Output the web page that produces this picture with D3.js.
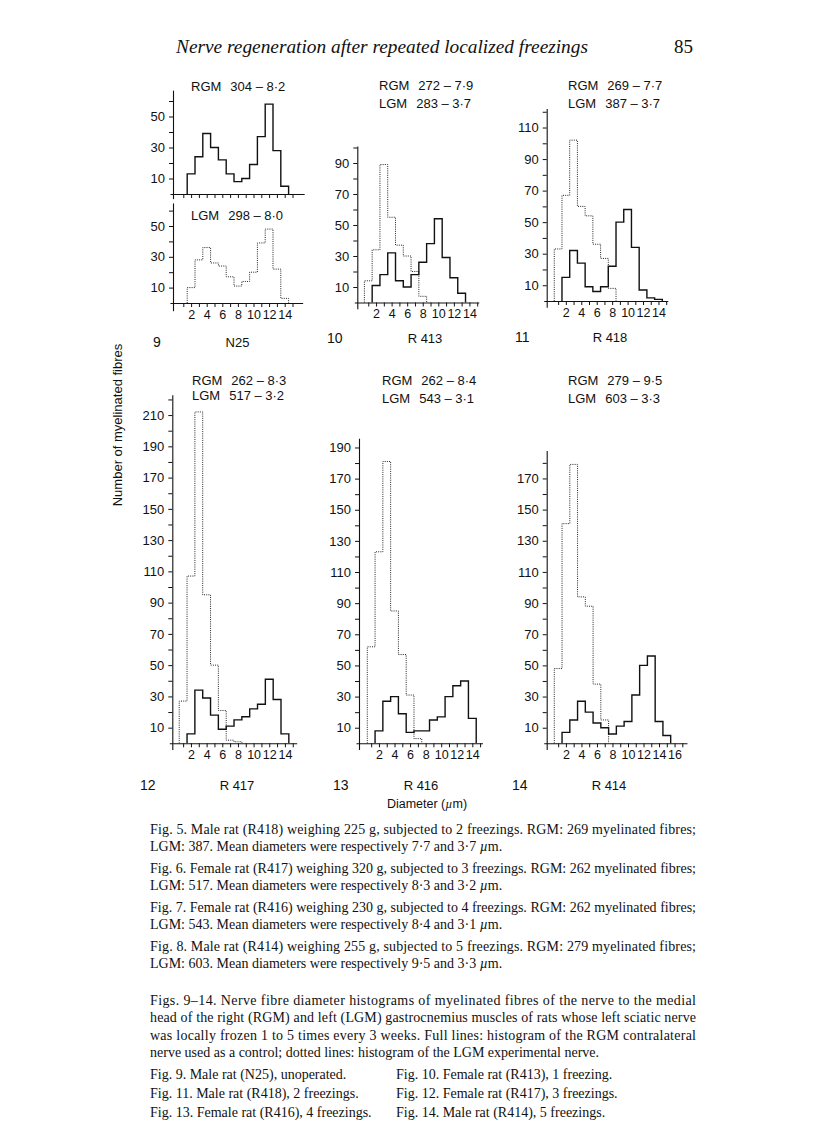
<!DOCTYPE html>
<html><head><meta charset="utf-8">
<script src="https://cdn.jsdelivr.net/npm/d3@7"></script>
<style>
body{margin:0;background:#fff}
svg text{fill:#111}
.sans{font-family:"Liberation Sans",Arial,Helvetica,sans-serif}
.serif{font-family:"Liberation Serif","Times New Roman",serif}
</style>
</head><body>
<script>
// ---------- DATA ----------
// Fibre diameter bins (µm), centre of each 1 µm class
const diameters = [1,2,3,4,5,6,7,8,9,10,11,12,13,14,15,16,17];
// Fig 9 (N25)
const rgmN25 = [13,24,39,30,22,13,8,10,19,37,58,28,5];      // from 2 µm
const lgmN25 = [10,28,36,26,24,17,11,14,20,39,48,22,3];     // from 2 µm
// Fig 10 (R413)
const rgmR413 = [11,18,32,14,10,18,26,38,54,29,16,6];        // from 2 µm
const lgmR413 = [14,34,89,55,37,30,20,4];                    // from 1 µm
// Fig 11 (R418)
const rgmR418 = [15,32,24,9,6,9,22,50,58,34,7,2,1];          // from 2 µm
const lgmR418 = [33,67,102,60,54,36,27,8];                   // from 1 µm
// Fig 12 (R417)
const rgmR417 = [6,34,29,18,9,11,15,17,22,25,41,28,6];       // from 2 µm
const lgmR417 = [27,107,212,95,50,21,2,1];                   // from 1 µm
// Fig 13 (R416)
const rgmR416 = [8,27,30,19,7,8,8,15,17,30,37,40,16];        // from 2 µm
const lgmR416 = [62,123,181,85,57,31,3];                     // from 1 µm
// Fig 14 (R414)
const rgmR414 = [7,15,27,20,13,10,6,11,14,31,50,56,14,5];    // from 2 µm
const lgmR414 = [48,141,179,94,88,38,15];                    // from 1 µm

const xTickLabels = ["2","4","6","8","10","12","14","16"];
const panelTitles = [
  ["RGM","304 – 8·2"],["LGM","298 – 8·0"],
  ["RGM","272 – 7·9"],["LGM","283 – 3·7"],
  ["RGM","269 – 7·7"],["LGM","387 – 3·7"],
  ["RGM","262 – 8·3"],["LGM","517 – 3·2"],
  ["RGM","262 – 8·4"],["LGM","543 – 3·1"],
  ["RGM","279 – 9·5"],["LGM","603 – 3·3"]
];
const figNumbers = ["9","10","11","12","13","14"];
const figNames = ["N25","R 413","R 418","R 417","R 416","R 414"];

const captionA = [
  ["Fig. 5. Male rat (R418) weighing 225 g, subjected to 2 freezings. RGM: 269 myelinated fibres;", true],
  ["LGM: 387. Mean diameters were respectively 7·7 and 3·7 µm.", false],
  ["Fig. 6. Female rat (R417) weighing 320 g, subjected to 3 freezings. RGM: 262 myelinated fibres;", true],
  ["LGM: 517. Mean diameters were respectively 8·3 and 3·2 µm.", false],
  ["Fig. 7. Female rat (R416) weighing 230 g, subjected to 4 freezings. RGM: 262 myelinated fibres;", true],
  ["LGM: 543. Mean diameters were respectively 8·4 and 3·1 µm.", false],
  ["Fig. 8. Male rat (R414) weighing 255 g, subjected to 5 freezings. RGM: 279 myelinated fibres;", true],
  ["LGM: 603. Mean diameters were respectively 9·5 and 3·3 µm.", false],
  ["Figs. 9–14. Nerve fibre diameter histograms of myelinated fibres of the nerve to the medial", true],
  ["head of the right (RGM) and left (LGM) gastrocnemius muscles of rats whose left sciatic nerve", true],
  ["was locally frozen 1 to 5 times every 3 weeks. Full lines: histogram of the RGM contralateral", true],
  ["nerve used as a control; dotted lines: histogram of the LGM experimental nerve.", false]
];
const captionB = [
  ["Fig. 9. Male rat (N25), unoperated.", "Fig. 10. Female rat (R413), 1 freezing."],
  ["Fig. 11. Male rat (R418), 2 freezings.", "Fig. 12. Female rat (R417), 3 freezings."],
  ["Fig. 13. Female rat (R416), 4 freezings.", "Fig. 14. Male rat (R414), 5 freezings."]
];

// ---------- LAYOUT ----------
const W = 816, H = 1141;
const svg = d3.select("body").append("svg").attr("width", W).attr("height", H);

const panels = [
  {axisX:173, x0:175.5, kx:7.8, base:194, ky:1.55, yBot:-3, yTop:67, yMaxTick:60, xEnd:16.5, xMaxTick:15, labels:false,
   series:[{v:rgmN25, first:2, dotted:false}]},
  {axisX:173, x0:175.5, kx:7.8, base:303, ky:1.54, yBot:-5, yTop:65, yMaxTick:60, xEnd:16.3, xMaxTick:15, labels:true,
   series:[{v:lgmN25, first:2, dotted:true}]},
  {axisX:357.3, x0:360.5, kx:7.78, base:302.5, ky:1.55, yBot:-4, yTop:101, yMaxTick:100, xEnd:15.2, xMaxTick:15, labels:true,
   series:[{v:lgmR413, first:1, dotted:true},{v:rgmR413, first:2, dotted:false}]},
  {axisX:546.7, x0:550.4, kx:7.72, base:301, ky:1.577, yBot:-4, yTop:122, yMaxTick:120, xEnd:15.2, xMaxTick:15, labels:true,
   series:[{v:lgmR418, first:1, dotted:true},{v:rgmR418, first:2, dotted:false}]},
  {axisX:172.3, x0:175.3, kx:7.83, base:743.3, ky:1.563, yBot:-4, yTop:223, yMaxTick:220, xEnd:15.5, xMaxTick:15, labels:true,
   series:[{v:lgmR417, first:1, dotted:true},{v:rgmR417, first:2, dotted:false}]},
  {axisX:359, x0:363.4, kx:7.78, base:743.3, ky:1.557, yBot:-4, yTop:196, yMaxTick:190, xEnd:15.3, xMaxTick:15, labels:true,
   series:[{v:lgmR416, first:1, dotted:true},{v:rgmR416, first:2, dotted:false}]},
  {axisX:546.7, x0:550.4, kx:7.76, base:743.3, ky:1.558, yBot:-4, yTop:188, yMaxTick:180, xEnd:17.6, xMaxTick:17, labels:true,
   series:[{v:lgmR414, first:1, dotted:true},{v:rgmR414, first:2, dotted:false}]}
];

panels.forEach(p => {
  const g = svg.append("g");
  const xStart = (p.axisX - 3 - p.x0) / p.kx;
  const x = d3.scaleLinear().domain([xStart, p.xEnd])
      .range([p.x0 + xStart * p.kx, p.x0 + p.xEnd * p.kx]);
  const y = d3.scaleLinear().domain([p.yBot, p.yTop])
      .range([p.base - p.yBot * p.ky, p.base - p.yTop * p.ky]);

  // histograms (outline steps)
  p.series.forEach(s => {
    const pts = [];
    s.v.forEach((val, i) => {
      const c = diameters[diameters.indexOf(s.first) + i];
      const lo = c - 0.5, hi = c + 0.5;
      if (i === 0) pts.push([lo, 0]);
      pts.push([lo, val]);
      pts.push([hi, val]);
      if (i === s.v.length - 1) pts.push([hi, 0]);
    });
    g.append("path")
      .attr("d", d3.line().x(d => x(d[0])).y(d => y(d[1]))(pts))
      .attr("fill", "none")
      .attr("stroke", s.dotted ? "#222" : "#111")
      .attr("stroke-width", s.dotted ? 1 : 1.4)
      .attr("stroke-dasharray", s.dotted ? "1,1.2" : null);
  });

  // y axis
  const yTicks = d3.range(10, p.yMaxTick + 1, 10);
  const yAx = d3.axisLeft(y).tickValues(yTicks).tickSize(4).tickSizeOuter(0).tickPadding(4)
      .tickFormat(d => (d / 10) % 2 === 1 ? String(d) : "");
  const ya = g.append("g").attr("transform", `translate(${p.axisX},0)`).call(yAx);
  ya.selectAll("text").style("font-size","13px").style("font-family","'Liberation Sans',Arial,sans-serif").attr("fill","#111");
  ya.selectAll("line").attr("stroke","#111");
  ya.select(".domain").attr("stroke","#111").attr("stroke-width",1.1);

  // x axis
  const xTicks = diameters.filter(d => d <= p.xMaxTick);
  const xAx = d3.axisBottom(x).tickValues(xTicks).tickSize(4).tickSizeOuter(0).tickPadding(3)
      .tickFormat(d => p.labels && xTickLabels.includes(String(d)) ? String(d) : "");
  const xa = g.append("g").attr("transform", `translate(0,${p.base})`).call(xAx);
  xa.selectAll("text").style("font-size","12.5px").style("font-family","'Liberation Sans',Arial,sans-serif").attr("fill","#111");
  xa.selectAll("line").attr("stroke","#111");
  xa.select(".domain").attr("stroke","#111").attr("stroke-width",1.1);
});

// panel titles (RGM / LGM lines)
const titlePos = [
  [191, 90.5],[191, 220],
  [379, 89.5],[379, 107.5],
  [568, 89.5],[568, 107.5],
  [192, 385],[192, 400],
  [382, 385],[382, 403],
  [568, 385],[568, 403]
];
panelTitles.forEach((t, i) => {
  const tx = svg.append("text").attr("class","sans").attr("x", titlePos[i][0]).attr("y", titlePos[i][1])
     .style("font-size","13px");
  tx.append("tspan").text(t[0]);
  tx.append("tspan").attr("dx", 9).text(t[1]);
});

// figure numbers & names
const numPos = [[153,347],[327,343],[515,342],[140,790],[333,790],[512,790]];
const namePos = [[237.5,347],[425,343],[610,342],[237,790],[421,790],[609,790]];
figNumbers.forEach((n, i) => {
  svg.append("text").attr("class","sans").attr("x", numPos[i][0]).attr("y", numPos[i][1])
    .style("font-size","14px").text(n);
  svg.append("text").attr("class","sans").attr("x", namePos[i][0]).attr("y", namePos[i][1])
    .attr("text-anchor","middle").style("font-size","13px").text(figNames[i]);
});

// axis titles
svg.append("text").attr("class","sans")
  .attr("transform","translate(122,425) rotate(-90)").attr("text-anchor","middle")
  .style("font-size","13px").text("Number of myelinated fibres");
const dt = svg.append("text").attr("class","sans").attr("x", 427).attr("y", 808)
  .attr("text-anchor","middle").style("font-size","12.5px");
dt.append("tspan").text("Diameter (");
dt.append("tspan").style("font-family","'Liberation Serif',serif").style("font-style","italic").text("µ");
dt.append("tspan").text("m)");

// header
svg.append("text").attr("class","serif").attr("x",176).attr("y",53)
  .style("font-size","19px").style("font-style","italic")
  .attr("textLength",412).attr("lengthAdjust","spacingAndGlyphs")
  .text("Nerve regeneration after repeated localized freezings");
svg.append("text").attr("class","serif").attr("x",674).attr("y",53)
  .style("font-size","19px").text("85");

// captions
function addLine(str, x, yb, justify, width) {
  const t = svg.append("text").attr("class","serif").attr("x", x).attr("y", yb).style("font-size","14px");
  const parts = str.split("µm");
  parts.forEach((p, i) => {
    t.append("tspan").text(p);
    if (i < parts.length - 1) {
      t.append("tspan").style("font-style","italic").text("µ");
      t.append("tspan").text("m");
    }
  });
  if (justify) t.attr("textLength", width).attr("lengthAdjust","spacing");
}
const capY = [834, 851, 873, 890, 912, 929, 951, 968, 1005, 1022, 1040, 1057];
captionA.forEach((c, i) => addLine(c[0], 150, capY[i], c[1], 546));
const capBY = [1079, 1098, 1117];
captionB.forEach((c, i) => {
  addLine(c[0], 150, capBY[i], false, 0);
  addLine(c[1], 396, capBY[i], false, 0);
});
</script>
</body></html>
